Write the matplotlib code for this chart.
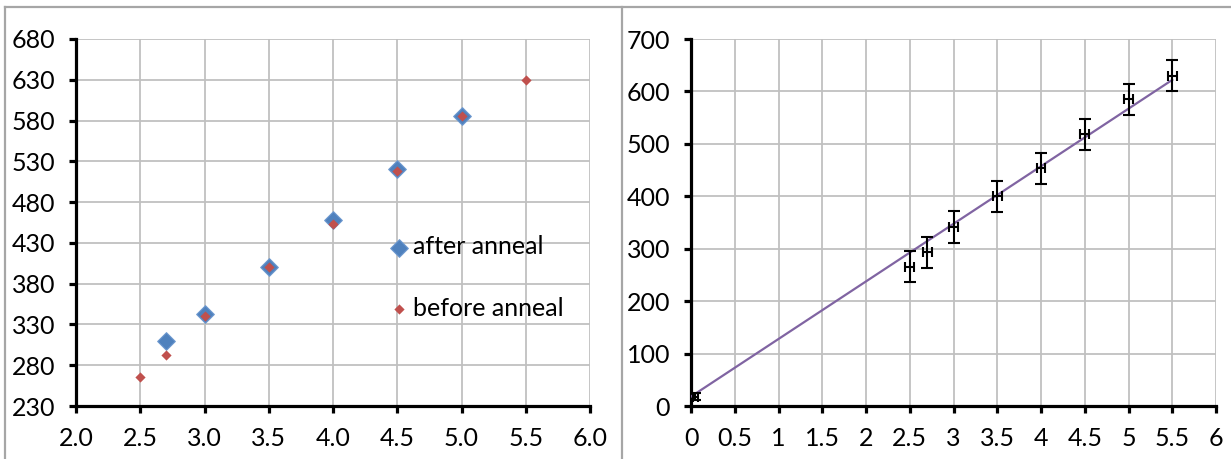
import matplotlib
matplotlib.use("Agg")
import matplotlib.pyplot as plt
from matplotlib.lines import Line2D

plt.rcParams['font.family'] = ['Lato', 'DejaVu Sans']

# Left panel data
after_x = [2.7, 3.0, 3.5, 4.0, 4.5, 5.0]
after_y = [310, 343, 401, 458, 521, 585]
before_x = [2.5, 2.7, 3.0, 3.5, 4.0, 4.5, 5.0, 5.5]
before_y = [266, 293, 340, 400, 453, 518, 585, 630]
left_xticks = [2.0, 2.5, 3.0, 3.5, 4.0, 4.5, 5.0, 5.5, 6.0]
left_yticks = [230, 280, 330, 380, 430, 480, 530, 580, 630, 680]

# Right panel data
pts_x = [0.05, 2.5, 2.7, 3.0, 3.5, 4.0, 4.5, 5.0, 5.5]
pts_y = [18, 266, 293, 341, 400, 453, 518, 585, 630]
pts_yerr = [6, 30, 30, 30, 30, 30, 30, 30, 30]
pts_xerr = [0.03, 0.05, 0.05, 0.05, 0.05, 0.05, 0.05, 0.05, 0.05]
trend_x = [0.0, 5.5]
trend_y = [18, 622]
right_xticks = [0, 0.5, 1, 1.5, 2, 2.5, 3, 3.5, 4, 4.5, 5, 5.5, 6]
right_xlabels = ['0', '0.5', '1', '1.5', '2', '2.5', '3', '3.5', '4', '4.5', '5', '5.5', '6']
right_yticks = [0, 100, 200, 300, 400, 500, 600, 700]

W, H = 1231, 459
fig = plt.figure(figsize=(W / 100, H / 100), dpi=100)

grid_c = '#c0c0c0'
FS = 18

def style(ax):
    ax.spines['top'].set_visible(False)
    ax.spines['right'].set_visible(False)
    ax.spines['left'].set_linewidth(2.3)
    ax.spines['bottom'].set_linewidth(2.3)
    ax.grid(True, color=grid_c, linewidth=1.3)
    ax.set_axisbelow(True)
    ax.tick_params(axis='both', direction='out', length=5, width=2.3,
                   labelsize=FS, pad=10, color='black')

def px_axes(l, r, t, b):
    return [l / W, (H - b) / H, (r - l) / W, (b - t) / H]

# Left
ax1 = fig.add_axes(px_axes(76, 590, 39, 406))
style(ax1)
ax1.scatter(after_x, after_y, marker='D', s=9.0**2, color='#4F81BD',
            edgecolor='#6f9ad0', linewidth=0.8, label='after anneal', zorder=3)
ax1.scatter(before_x, before_y, marker='D', s=5.2**2, color='#C0504D',
            linewidth=0, label='before anneal', zorder=4)
ax1.set_xlim(2.0, 6.0)
ax1.set_ylim(230, 680)
ax1.set_xticks(left_xticks)
ax1.set_xticklabels([f'{v:.1f}' for v in left_xticks])
ax1.set_yticks(left_yticks)
leg = ax1.legend(loc='center left', bbox_to_anchor=(0.607, 0.35), frameon=False,
                 fontsize=FS, labelspacing=1.53, handletextpad=0.1,
                 handlelength=0.9, borderpad=0, borderaxespad=0)

# Right
ax2 = fig.add_axes(px_axes(691, 1216, 39, 406))
style(ax2)
ax2.plot(trend_x, trend_y, color='#8064A2', linewidth=1.6, zorder=3)
ax2.errorbar(pts_x, pts_y, yerr=pts_yerr, fmt='none', ecolor='black',
             elinewidth=1.5, capsize=4, capthick=1.5, zorder=4)
ax2.errorbar(pts_x, pts_y, xerr=pts_xerr, fmt='none', ecolor='black',
             elinewidth=1.5, capsize=3.5, capthick=1.5, zorder=4)
ax2.set_xlim(0, 6)
ax2.set_ylim(0, 700)
ax2.set_xticks(right_xticks)
ax2.set_xticklabels(right_xlabels)
ax2.set_yticks(right_yticks)

# Frame lines
fc = '#a6a6a6'
def fline(x0, y0, x1, y1):
    fig.add_artist(Line2D([x0 / W, x1 / W], [1 - y0 / H, 1 - y1 / H],
                          color=fc, linewidth=1.6, transform=fig.transFigure))
fline(5, 7, 1231, 7)
fline(5, 7, 5, 459)
fline(622, 7, 622, 459)

fig.savefig('out.png', dpi=100)
